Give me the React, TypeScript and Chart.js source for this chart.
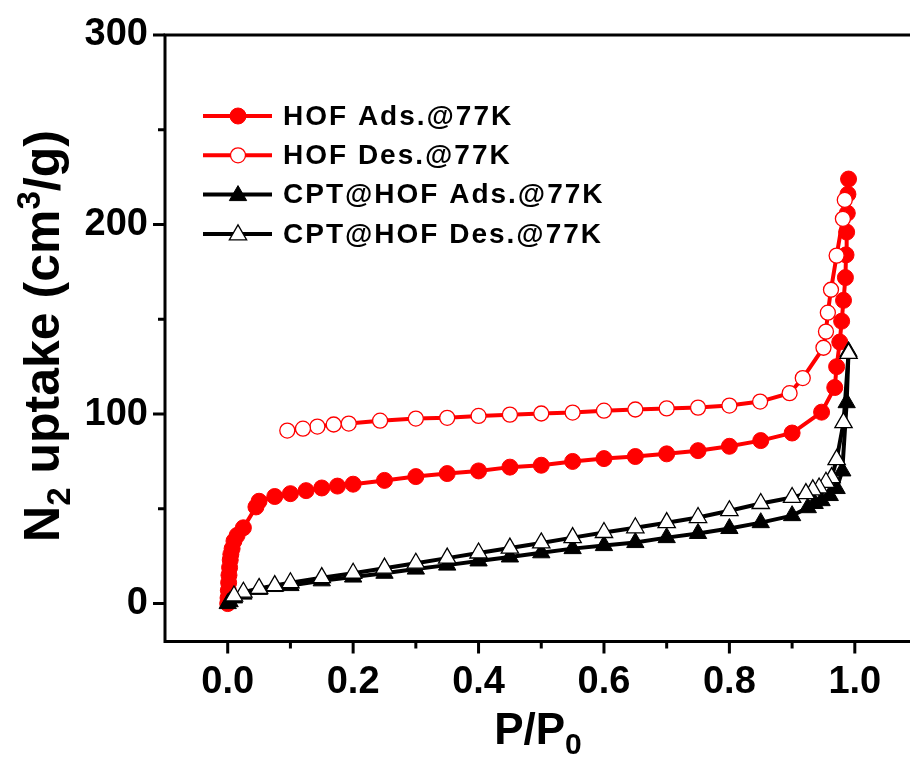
import React, { useEffect, useRef } from 'react';
import { Chart, registerables } from 'chart.js';
Chart.register(...registerables);

// ---- data ----
const hofAdsP = [0, 0.0005, 0.001, 0.0015, 0.002, 0.003, 0.004, 0.005, 0.007, 0.01, 0.015, 0.025, 0.045, 0.05, 0.075, 0.1, 0.125, 0.15, 0.175, 0.2, 0.25, 0.3, 0.35, 0.4, 0.45, 0.5, 0.55, 0.6, 0.65, 0.7, 0.75, 0.8, 0.85, 0.9, 0.947, 0.968, 0.971, 0.976, 0.979, 0.982, 0.985, 0.986, 0.987, 0.988, 0.989, 0.99];
const hofAdsV = [0, 3, 7, 11, 15, 19, 23, 26, 29, 33, 36, 40, 51, 54, 56.5, 58, 59.6, 61, 62, 63, 65, 67, 68.6, 70, 72, 73, 75, 76.5, 77.6, 79, 80.7, 83, 86, 90, 101, 114, 125, 138, 149, 160, 172, 184, 196, 206, 216, 224];

const hofDesP = [0.984, 0.981, 0.971, 0.962, 0.957, 0.954, 0.95, 0.917, 0.896, 0.849, 0.8, 0.75, 0.7, 0.65, 0.6, 0.55, 0.5, 0.45, 0.4, 0.35, 0.3, 0.243, 0.193, 0.169, 0.143, 0.12, 0.095];
const hofDesV = [213, 203, 183.6, 165.6, 153.5, 143.5, 135, 119, 111, 106.6, 104.5, 103.4, 103, 102.4, 101.8, 100.8, 100.3, 99.7, 99, 98, 97.6, 96.5, 95, 94.5, 93.4, 92.3, 91.3];

const cptAdsP = [0, 0.003, 0.01, 0.025, 0.05, 0.075, 0.1, 0.15, 0.2, 0.25, 0.3, 0.35, 0.4, 0.45, 0.5, 0.55, 0.6, 0.65, 0.7, 0.75, 0.8, 0.85, 0.9, 0.925, 0.936, 0.947, 0.96, 0.971, 0.98, 0.987, 0.99];
const cptAdsV = [0, 1, 3, 5, 7.5, 9, 9.5, 12, 14, 16, 18.2, 20.3, 22.5, 24.6, 26.8, 29, 30.6, 32.2, 34.8, 37, 39.6, 42.7, 46.4, 50.6, 52.8, 54.3, 57, 60.7, 70, 106, 133];

const cptDesP = [0.99, 0.982, 0.971, 0.963, 0.954, 0.943, 0.933, 0.922, 0.9, 0.85, 0.8, 0.75, 0.7, 0.65, 0.6, 0.55, 0.5, 0.45, 0.4, 0.35, 0.3, 0.25, 0.2, 0.15, 0.1, 0.075, 0.05, 0.025, 0.01];
const cptDesV = [132, 95.5, 76, 66.5, 64, 61, 60, 58, 56, 52.8, 49, 45.4, 42.7, 40, 37.5, 34.8, 32, 29.3, 26.7, 24, 21.3, 18.7, 16, 13.7, 11, 9.5, 8, 6, 4];

const seriesLabels = ['HOF Ads.@77K', 'HOF Des.@77K', 'CPT@HOF Ads.@77K', 'CPT@HOF Des.@77K'];
const xTickValues = [0, 0.2, 0.4, 0.6, 0.8, 1.0];
const xMinorTicks = [0.1, 0.3, 0.5, 0.7, 0.9];
const yTickValues = [0, 100, 200, 300];
const yMinorTicks = [50, 150, 250];

const FONT = '"Liberation Sans", Arial, sans-serif';

const toXY = (xs: number[], ys: number[]) => xs.map((x, i) => ({ x, y: ys[i] }));

type Part = { t: string; k?: 'sub' | 'sup' };

function drawRich(ctx: CanvasRenderingContext2D, parts: Part[], size: number, subSize: number) {
  const widths = parts.map((p) => {
    ctx.font = `bold ${p.k ? subSize : size}px ${FONT}`;
    return ctx.measureText(p.t).width;
  });
  const total = widths.reduce((a, b) => a + b, 0);
  let x = -total / 2;
  ctx.textBaseline = 'alphabetic';
  ctx.textAlign = 'left';
  parts.forEach((p, i) => {
    ctx.font = `bold ${p.k ? subSize : size}px ${FONT}`;
    let dy = 0;
    if (p.k === 'sub') dy = size * 0.22;
    if (p.k === 'sup') dy = -size * 0.38;
    ctx.fillText(p.t, x, dy);
    x += widths[i];
  });
}

function drawMarker(ctx: CanvasRenderingContext2D, style: string, x: number, y: number, r: number, fill: string, stroke: string, bw: number) {
  ctx.beginPath();
  if (style === 'circle') {
    ctx.arc(x, y, r, 0, Math.PI * 2);
  } else {
    const s = Math.sin(Math.PI / 3) * r;
    ctx.moveTo(x, y - r);
    ctx.lineTo(x + s, y + r / 2);
    ctx.lineTo(x - s, y + r / 2);
    ctx.closePath();
  }
  ctx.fillStyle = fill;
  ctx.fill();
  ctx.lineWidth = bw;
  ctx.strokeStyle = stroke;
  ctx.stroke();
}

const decorPlugin = {
  id: 'decor',
  afterDraw(chart: any) {
    const ctx: CanvasRenderingContext2D = chart.ctx;
    const { left, top, bottom } = chart.chartArea;
    const right = chart.width;
    const xs = chart.scales.x;
    const ys = chart.scales.y;
    ctx.save();
    ctx.strokeStyle = '#000';
    ctx.lineWidth = 3;
    ctx.lineCap = 'butt';
    ctx.beginPath();
    ctx.moveTo(left, top - 1.5);
    ctx.lineTo(left, bottom + 1.5);
    ctx.moveTo(left - 1.5, bottom);
    ctx.lineTo(right, bottom);
    ctx.moveTo(left - 1.5, top);
    ctx.lineTo(right, top);
    ctx.stroke();
    ctx.beginPath();
    xTickValues.forEach((v) => {
      const px = xs.getPixelForValue(v);
      ctx.moveTo(px, bottom);
      ctx.lineTo(px, bottom + 12);
    });
    xMinorTicks.forEach((v) => {
      const px = xs.getPixelForValue(v);
      ctx.moveTo(px, bottom);
      ctx.lineTo(px, bottom + 7);
    });
    yTickValues.forEach((v) => {
      const py = ys.getPixelForValue(v);
      ctx.moveTo(left - 12, py);
      ctx.lineTo(left, py);
    });
    yMinorTicks.forEach((v) => {
      const py = ys.getPixelForValue(v);
      ctx.moveTo(left - 7, py);
      ctx.lineTo(left, py);
    });
    ctx.stroke();

    ctx.fillStyle = '#000';
    ctx.save();
    ctx.translate(538, 744);
    drawRich(ctx, [{ t: 'P/P' }, { t: '0', k: 'sub' }], 44, 30);
    ctx.restore();

    ctx.save();
    ctx.translate(59, 336);
    ctx.rotate(-Math.PI / 2);
    drawRich(ctx, [{ t: 'N' }, { t: '2', k: 'sub' }, { t: ' uptake (cm' }, { t: '3', k: 'sup' }, { t: '/g)' }], 50, 33);
    ctx.restore();

    chart.data.datasets.forEach((ds: any, i: number) => {
      const y = 116 + i * 39.3;
      ctx.beginPath();
      ctx.strokeStyle = ds.borderColor;
      ctx.lineWidth = 4;
      ctx.moveTo(203, y);
      ctx.lineTo(272, y);
      ctx.stroke();
      drawMarker(ctx, ds.pointStyle, 238, ds.pointStyle === 'triangle' ? y + 1 : y, ds.pointRadius, ds.pointBackgroundColor, ds.pointBorderColor, ds.pointBorderWidth);
      ctx.fillStyle = '#000';
      ctx.font = `bold 28px ${FONT}`;
      (ctx as any).letterSpacing = '2px';
      ctx.textAlign = 'left';
      ctx.textBaseline = 'middle';
      ctx.fillText(ds.label, 283, y + 1);
      (ctx as any).letterSpacing = '0px';
    });
    ctx.restore();
  },
};

export default function App() {
  const ref = useRef<HTMLCanvasElement | null>(null);
  useEffect(() => {
    if (!ref.current) return;
    const chart = new Chart(ref.current, {
      type: 'line',
      data: {
        datasets: [
          {
            label: seriesLabels[0],
            data: toXY(hofAdsP, hofAdsV),
            borderColor: '#ff0000',
            borderWidth: 4,
            pointStyle: 'circle',
            pointRadius: 8,
            pointBackgroundColor: '#ff0000',
            pointBorderColor: '#ff0000',
            pointBorderWidth: 1,
            order: 3,
          },
          {
            label: seriesLabels[1],
            data: toXY(hofDesP, hofDesV),
            borderColor: '#ff0000',
            borderWidth: 4,
            pointStyle: 'circle',
            pointRadius: 7.5,
            pointBackgroundColor: '#ffffff',
            pointBorderColor: '#ff0000',
            pointBorderWidth: 1.3,
            order: 2,
          },
          {
            label: seriesLabels[2],
            data: toXY(cptAdsP, cptAdsV),
            borderColor: '#000000',
            borderWidth: 4,
            pointStyle: 'triangle',
            pointRadius: 10,
            pointBackgroundColor: '#000000',
            pointBorderColor: '#000000',
            pointBorderWidth: 1,
            order: 1,
          },
          {
            label: seriesLabels[3],
            data: toXY(cptDesP, cptDesV),
            borderColor: '#000000',
            borderWidth: 4,
            pointStyle: 'triangle',
            pointRadius: 10,
            pointBackgroundColor: '#ffffff',
            pointBorderColor: '#000000',
            pointBorderWidth: 1.3,
            order: 0,
          },
        ] as any,
      },
      options: {
        animation: false,
        responsive: false,
        devicePixelRatio: 1,
        layout: { autoPadding: false, padding: { left: 0, right: 0, top: 35, bottom: 0 } },
        elements: { line: { tension: 0 } },
        plugins: { legend: { display: false }, tooltip: { enabled: false } },
        scales: {
          x: {
            type: 'linear',
            min: -0.1,
            max: 1.088,
            afterBuildTicks: (axis: any) => {
              axis.ticks = xTickValues.map((v) => ({ value: v }));
            },
            afterFit: (axis: any) => {
              axis.height = 120.5;
              axis.paddingLeft = 0;
              axis.paddingRight = 0;
              axis.paddingTop = 0;
              axis.paddingBottom = 0;
            },
            grid: { display: false, drawTicks: false },
            border: { display: false },
            ticks: {
              padding: 18,
              color: '#000',
              maxRotation: 0,
              autoSkip: false,
              font: { family: FONT, size: 38, weight: 'bold' },
              callback: (v: any) => Number(v).toFixed(1),
            },
          },
          y: {
            type: 'linear',
            min: -20,
            max: 300,
            afterBuildTicks: (axis: any) => {
              axis.ticks = yTickValues.map((v) => ({ value: v }));
            },
            afterFit: (axis: any) => {
              axis.width = 165;
              axis.paddingLeft = 0;
              axis.paddingRight = 0;
              axis.paddingTop = 0;
              axis.paddingBottom = 0;
            },
            grid: { display: false, drawTicks: false },
            border: { display: false },
            ticks: {
              padding: 17,
              color: '#000',
              autoSkip: false,
              font: { family: FONT, size: 38, weight: 'bold' },
              callback: (v: any) => String(v),
            },
          },
        },
      } as any,
      plugins: [decorPlugin],
    });
    return () => chart.destroy();
  }, []);
  return (
    <div style={{ position: 'fixed', left: 0, top: 0, width: 910, height: 762, background: '#fff', overflow: 'hidden' }}>
      <canvas ref={ref} width={910} height={762} style={{ width: 910, height: 762, display: 'block' }} />
    </div>
  );
}
